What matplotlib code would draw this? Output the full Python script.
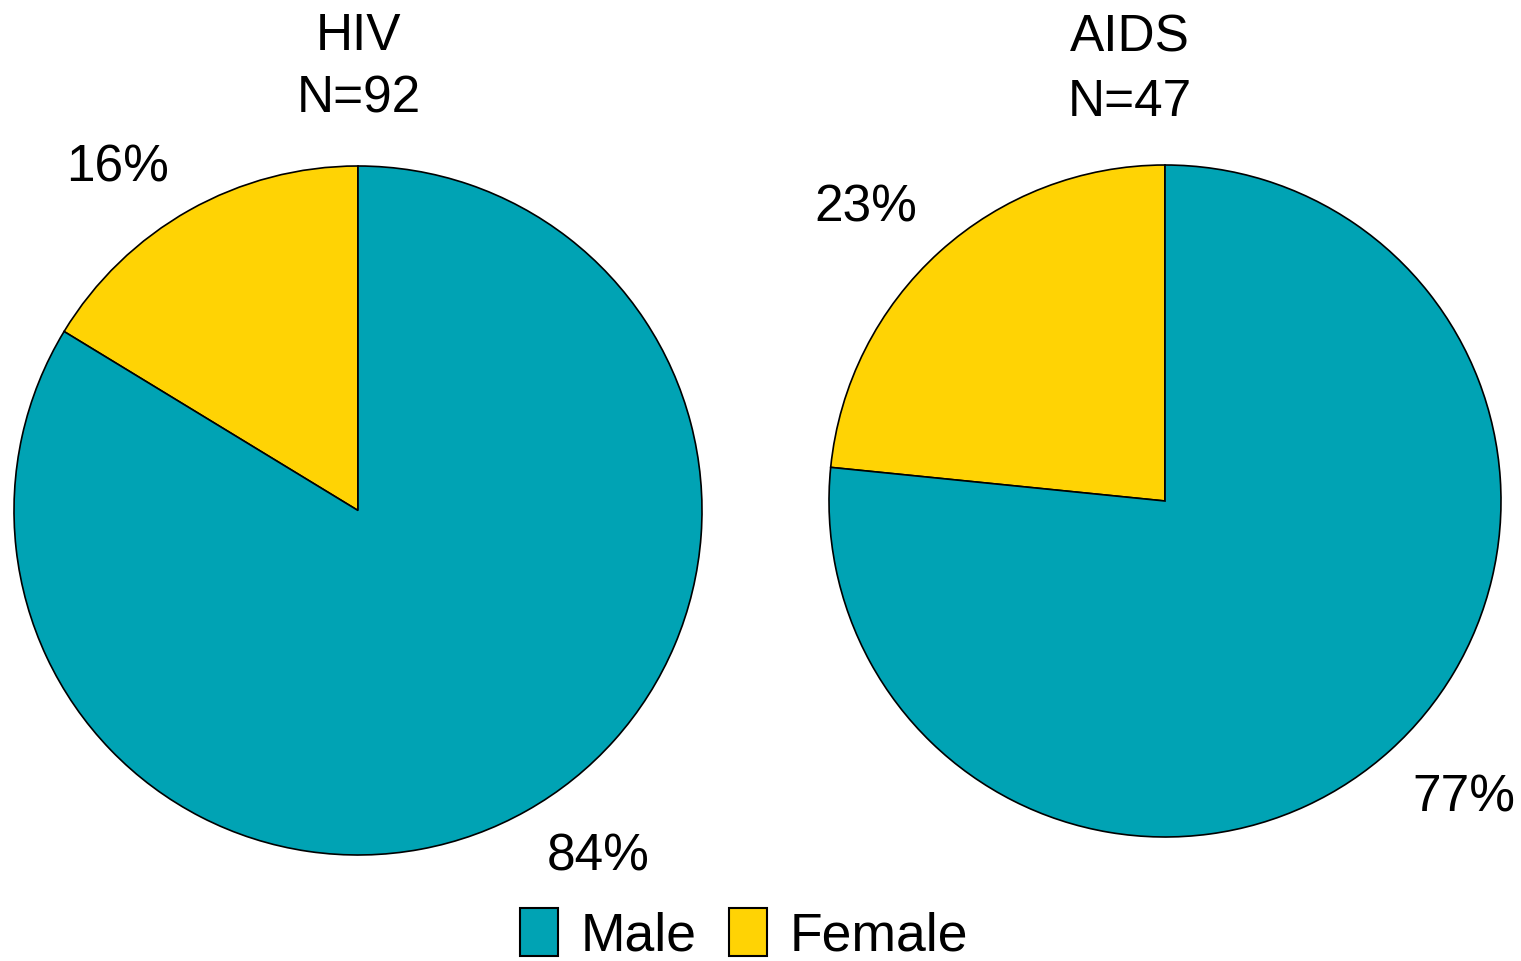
import numpy as np
import matplotlib.pyplot as plt
from matplotlib.patches import Patch

plt.rcParams['font.family'] = ['Liberation Sans', 'DejaVu Sans']

# datos
categorias = ['Female', 'Male']
hiv_n = [15, 77]
aids_n = [11, 36]
titulo_hiv = ['HIV', 'N=92']
titulo_aids = ['AIDS', 'N=47']
colores = ['#FFD304', '#00A3B4']

W, H = 1521, 961
fs = 37
fig = plt.figure(figsize=(W / 100, H / 100), dpi=100)


def pie_ax(x0, x1, ytop, ybot):
    return fig.add_axes([x0 / W, 1 - ybot / H, (x1 - x0) / W, (ybot - ytop) / H])


ax1 = pie_ax(14, 702, 166, 855)
ax2 = pie_ax(829, 1501, 165, 837)

# desplazamiento angular (grados) y distancia de las etiquetas
for ax, vals, dang, dist in [(ax1, hiv_n, 5.6, 1.22), (ax2, aids_n, 3.3, 1.25)]:
    wedges, _ = ax.pie(vals, colors=colores, startangle=90, counterclock=True,
                       wedgeprops=dict(edgecolor='black', linewidth=1.2))
    total = sum(vals)
    for w, v in zip(wedges, vals):
        ang = np.deg2rad((w.theta1 + w.theta2) / 2 + dang)
        ax.text(dist * np.cos(ang), dist * np.sin(ang) - 0.006, f'{100 * v / total:.0f}%',
                ha='center', va='center', fontsize=fs, clip_on=False)
    ax.set_xlim(-1, 1)
    ax.set_ylim(-1, 1)
    ax.set_aspect('auto')
    ax.axis('off')

# titulos
for x, lineas, ys in [(359, titulo_hiv, (50, 113)), (1130, titulo_aids, (51, 116))]:
    for linea, y in zip(lineas, ys):
        fig.text(x / W, 1 - y / H, linea, ha='center', va='baseline', fontsize=fs)

handles = [Patch(facecolor=colores[1], edgecolor='black', linewidth=1.5),
           Patch(facecolor=colores[0], edgecolor='black', linewidth=1.5)]
fig.legend(handles, ['Male', 'Female'], loc='center', ncol=2,
           bbox_to_anchor=(744 / W, 1 - 935 / H), frameon=False,
           fontsize=38.5, handlelength=0.72, handleheight=1.0,
           handletextpad=0.42, columnspacing=0.6, borderaxespad=0)

fig.savefig('out.png', dpi=100)
